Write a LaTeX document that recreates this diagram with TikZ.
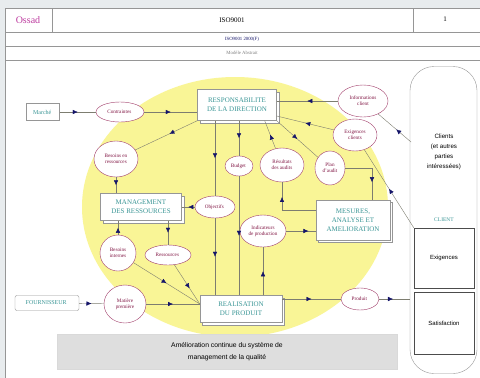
\documentclass[tikz,border=0pt]{standalone}
\usepackage{fontspec}
\setmainfont{Liberation Serif}
\setsansfont{Liberation Sans}
\usepackage{tikz}
\usetikzlibrary{arrows.meta}
\usetikzlibrary{positioning}
\usetikzlibrary{shapes,shadows}
\usetikzlibrary{decorations.markings}

\definecolor{fondpage}{RGB}{232,236,238}
\definecolor{jaune}{RGB}{249,245,150}
\definecolor{sarcelle}{RGB}{58,150,150}
\definecolor{prune}{RGB}{130,24,70}
\definecolor{bordbulle}{RGB}{160,60,105}
\definecolor{ligne}{RGB}{125,125,112}
\definecolor{marine}{RGB}{20,20,105}
\definecolor{grisbord}{RGB}{150,150,150}

\tikzset{
    bloc/.style={
           rectangle,
           draw=grisbord,
           fill=white,
           text=sarcelle,
           font=\fontsize{7}{9}\selectfont,
           inner sep=2pt,
           align=center,
           copy shadow={shadow xshift=2.5pt, shadow yshift=-2.5pt,
                        draw=grisbord, fill=white},
           },
    bloc2/.style={
           rectangle,
           draw=grisbord,
           fill=white,
           text=sarcelle,
           font=\fontsize{6}{7}\selectfont,
           inner sep=2pt,
           align=center,
           },
    bulle/.style={
           ellipse,
           draw=bordbulle,
           fill=white,
           text=prune,
           font=\fontsize{5.2}{6.2}\selectfont,
           inner sep=0pt,
           align=center,
           },
    fleche/.style={
           draw=ligne,
           postaction={decorate},
           decoration={markings,
             mark=at position #1 with {\arrow[marine]{Latex[length=5pt,width=4.5pt]}}},
           },
    fleche/.default=0.5
}

\begin{document}
\begin{tikzpicture}[x=1pt,y=-1pt]

 % page and header
 \useasboundingbox (0,0) rectangle (480,378);
 \fill[fondpage] (0,0) rectangle (480,378);
 \fill[white] (5,8) rectangle (480,378);
 \draw[grisbord] (5,378) -- (5,8) -- (480,8);
 \draw[grisbord] (5,32) -- (480,32) (5,46) -- (480,46) (5,60) -- (480,60);
 \draw[grisbord] (52,8) -- (52,32) (413,8) -- (413,32);
 \node[text={rgb,255:red,190;green,60;blue,160},font=\fontsize{10}{10}\selectfont] (OSSAD) at (28,20) {Ossad};
 \node[font=\fontsize{7}{7}\selectfont] (TITRE) at (232,20) {ISO9001};
 \node[font=\fontsize{7}{7}\selectfont] (PAGE) at (445,19) {1};
 \node[text=marine,font=\fontsize{4.8}{5}\selectfont] (NORME) at (242,39) {ISO9001 2000(F)};
 \node[text=gray,font=\fontsize{4.8}{5}\selectfont] (MODELE) at (242,53) {Mod\`ele Abstrait};

 % yellow background
 \fill[jaune] (235,207) ellipse [x radius=153, y radius=130];

 % Next node: RESPONSABILITE
 \node[bloc,
 minimum width=79pt,
 minimum height=31pt
 ] (RESP) at (237,105)
  {%
 RESPONSABILITE\\DE LA DIRECTION
 };

 \node[bloc2,
 minimum width=33pt,
 minimum height=17pt
 ] (MARCHE) at (43,112)
  {%
 March\'e
 };

 \node[bulle,
 right of=MARCHE,
 node distance=77pt,
 minimum width=48pt,
 minimum height=20pt] (CONTR)
 {%
Contraintes
 };

 \node[bulle,
 minimum width=50pt,
 minimum height=32pt] (INFO) at (363,101)
 {%
Informations\\client
 };

 \node[bulle,
 minimum width=44pt,
 minimum height=32pt] (EXIGC) at (355,135)
 {%
Exigences\\clients
 };

 \node[bulle,
 minimum width=44pt,
 minimum height=36pt] (BRESS) at (116,159)
 {%
Besoins en\\ressources
 };

 \node[bulle,
 minimum width=28pt,
 minimum height=20pt] (BUDG) at (239,166)
 {%
Budget
 };

 \node[bulle,
 minimum width=44pt,
 minimum height=34pt] (RESULT) at (282,165)
 {%
R\'esultats\\des audits
 };

 \node[bulle,
 minimum width=30pt,
 minimum height=34pt] (PLAN) at (330,168)
 {%
Plan\\d'audit
 };

 % Next node: MANAGEMENT
 \node[bloc,
 minimum width=81pt,
 minimum height=27pt
 ] (MGMT) at (141,207)
  {%
 MANAGEMENT\\DES RESSOURCES
 };

 \node[bulle,
 right of=MGMT,
 node distance=74pt,
 minimum width=40pt,
 minimum height=22pt] (OBJ)
 {%
Objectifs
 };

 % Next node: MESURES
 \node[bloc,
 minimum width=74pt,
 minimum height=40pt
 ] (MES) at (353,220)
  {%
 MESURES,\\ANALYSE ET\\AMELIORATION
 };

 \node[bulle,
 minimum width=46pt,
 minimum height=32pt] (IND) at (263,231)
 {%
Indicateurs\\de production
 };

 \node[bulle,
 minimum width=36pt,
 minimum height=36pt] (BINT) at (118,253)
 {%
Besoins\\internes
 };

 \node[bulle,
 minimum width=46pt,
 minimum height=20pt] (RESS) at (168,255)
 {%
Ressources
 };

 \node[bloc2,
 rounded corners=2pt,
 minimum width=64pt,
 minimum height=15pt
 ] (FOURN) at (47,303)
  {%
 FOURNISSEUR
 };

 \node[bulle,
 minimum width=42pt,
 minimum height=38pt] (MATP) at (125,304)
 {%
Mati\`ere\\premi\`ere
 };

 % Next node: REALISATION
 \node[bloc,
 minimum width=82pt,
 minimum height=27pt
 ] (REAL) at (241,309)
  {%
 REALISATION\\DU PRODUIT
 };

 \node[bulle,
 minimum width=38pt,
 minimum height=22pt] (PROD) at (360,299)
 {%
Produit
 };

 % client column
 \node[draw=grisbord,
 rounded corners=24pt,
 minimum width=67pt,
 minimum height=307pt] (CLIENTS) at (443.5,220) {};

 \node[font=\sffamily\fontsize{6.2}{10}\selectfont,
 align=center] (PARTIES) at (444,152)
 {%
Clients\\(et autres\\parties\\int\'eress\'ees)
 };

 \node[text=sarcelle,
 font=\fontsize{5.5}{6}\selectfont] (CLIENT) at (444,220) {CLIENT};

 \node[draw=black!70,
 font=\sffamily\fontsize{6}{7}\selectfont,
 minimum width=60pt,
 minimum height=60pt] (EXIG) at (444,258) {Exigences};

 \node[draw=black!70,
 font=\sffamily\fontsize{6}{7}\selectfont,
 minimum width=60pt,
 minimum height=62pt] (SATIS) at (444,323) {Satisfaction};

 % bottom box
 \node[draw=black!15,
 fill=black!13,
 font=\sffamily\fontsize{6.8}{12}\selectfont,
 align=center,
 minimum width=340pt,
 minimum height=35pt] (AMEL) at (227,352)
 {%
Am\'elioration continue du syst\`eme de\\management de la qualit\'e
 };

 \coordinate (CINFO) at (411,142);

 % draw the paths
 \draw[fleche] (MARCHE) -- (CONTR);
 \draw[fleche] (CONTR) -- (CONTR -| RESP.west);
 \draw[fleche=0.45] (RESP.south west) -- (BRESS);
 \draw[fleche] (BRESS) -- (BRESS |- MGMT.north);
 \draw[fleche] (RESP.south -| OBJ) -- (OBJ);
 \draw[fleche] (OBJ) -- (OBJ |- REAL.north);
 \draw[fleche] (OBJ) -- (OBJ -| MGMT.east);
 \draw[fleche] (RESP.south -| BUDG) -- (BUDG);
 \draw[fleche] (BUDG) -- (BUDG |- REAL.north);
 \draw[fleche] (RESULT) -- ([xshift=-12pt]RESP.south east);
 \draw[fleche] (RESP.south east) -- (PLAN);
 \draw[fleche] (EXIGC) -- ([yshift=-11pt]RESP.east);
 \draw[fleche] (INFO) -- (INFO -| RESP.east);
 \draw[fleche=0.45] (CINFO) -- (INFO);
 \draw[fleche] (EXIG.north west) -- (EXIGC);
 \draw[fleche=0.7] (PLAN.east) -| ([xshift=19pt]MES.north);
 \draw[fleche=0.76] ([yshift=10pt]MES.west) -| (RESULT.south);
 \draw[fleche=0.75] (IND) -- (IND -| MES.west);
 \draw[fleche] (REAL.north -| IND) -- (IND);
 \draw[fleche] (BINT) -- (BINT |- MGMT.south);
 \draw[fleche] (MGMT.south -| RESS) -- (RESS);
 \draw[fleche] (BINT) -- ([yshift=5pt]REAL.west);
 \draw[fleche=0.6] (RESS) -- ([yshift=5pt]REAL.west);
 \draw[fleche] (FOURN) -- (MATP);
 \draw[fleche] (MATP) -- (MATP -| REAL.west);
 \draw[fleche] (REAL.east |- PROD) -- (PROD);
 \draw[fleche=0.45] (PROD) -- (PROD -| CLIENTS.west);

\end{tikzpicture}
\end{document}
